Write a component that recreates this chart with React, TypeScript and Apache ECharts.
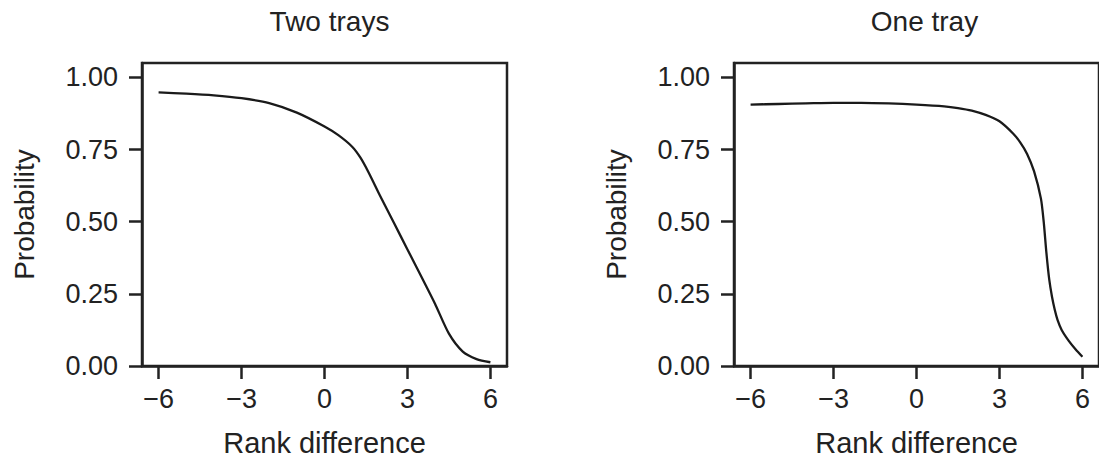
import React, { useEffect, useRef } from "react";
import * as echarts from "echarts";

const titles = ["Two trays", "One tray"];
const xTicks = [-6, -3, 0, 3, 6];
const yTicks = [0, 0.25, 0.5, 0.75, 1];

const twoTraysX = [-6, -5, -4, -3, -2, -1, 0, 0.5, 1, 1.3, 1.6, 2, 2.5, 3, 3.5, 4, 4.5, 5, 5.5, 6];
const twoTraysY = [0.948, 0.944, 0.938, 0.928, 0.911, 0.878, 0.83, 0.8, 0.76, 0.722, 0.67, 0.592, 0.498, 0.404, 0.31, 0.215, 0.112, 0.05, 0.024, 0.013];

const oneTrayX = [-6, -5, -4, -3, -2, -1, 0, 1, 1.5, 2, 2.5, 3, 3.5, 3.75, 4, 4.25, 4.5, 4.6, 4.7, 4.8, 4.9, 5, 5.1, 5.25, 5.5, 5.75, 6];
const oneTrayY = [0.906, 0.908, 0.91, 0.912, 0.912, 0.91, 0.906, 0.9, 0.894, 0.885, 0.87, 0.848, 0.805, 0.775, 0.735, 0.675, 0.58, 0.5, 0.39, 0.3, 0.24, 0.195, 0.16, 0.125, 0.088, 0.058, 0.032];

const FONT = "Liberation Sans, Arial, sans-serif";
const INK = "#222";

export default function App() {
  const ref = useRef<HTMLDivElement>(null);
  useEffect(() => {
    if (!ref.current) return;
    const chart = echarts.init(ref.current, null, { renderer: "svg" });
    const grids = [
      { left: 142, top: 63, width: 365, height: 303 },
      { left: 734, top: 63, width: 371, height: 303 },
    ];
    const mk = (xs: number[], ys: number[]) => xs.map((x, i) => [x, ys[i]]);
    const option: any = {
      animation: false,
      backgroundColor: "#fff",
      title: titles.map((t, i) => ({
        text: t,
        left: grids[i].left + grids[i].width / 2,
        top: 2,
        textAlign: "center",
        textStyle: { fontFamily: FONT, fontSize: 28, fontWeight: "normal", color: INK },
      })),
      grid: grids.map((g) => ({
        ...g,
        show: true,
        borderColor: INK,
        borderWidth: 2.5,
        backgroundColor: "transparent",
        containLabel: false,
      })),
      xAxis: grids.map((_, i) => ({
        type: "value",
        gridIndex: i,
        min: -6.6,
        max: 6.6,
        name: "Rank difference",
        nameLocation: "middle",
        nameGap: 62,
        nameTextStyle: { fontFamily: FONT, fontSize: 29, color: INK },
        axisLine: { show: true, onZero: false, lineStyle: { color: INK, width: 2.5 } },
        axisTick: { show: true, inside: false, length: 13, customValues: xTicks, lineStyle: { color: INK, width: 2.5 } },
        axisLabel: {
          customValues: xTicks,
          margin: 19,
          fontFamily: FONT,
          fontSize: 27,
          color: INK,
          formatter: (v: number) => String(v).replace("-", "\u2212"),
        },
        splitLine: { show: false },
      })),
      yAxis: grids.map((_, i) => ({
        type: "value",
        gridIndex: i,
        min: 0,
        max: 1.05,
        name: "Probability",
        nameLocation: "middle",
        nameGap: 104,
        nameTextStyle: { fontFamily: FONT, fontSize: 28, color: INK },
        axisLine: { show: true, onZero: false, lineStyle: { color: INK, width: 2.5 } },
        axisTick: { show: true, inside: false, length: 13, customValues: yTicks, lineStyle: { color: INK, width: 2.5 } },
        axisLabel: {
          customValues: yTicks,
          margin: 24,
          fontFamily: FONT,
          fontSize: 27,
          color: INK,
          formatter: (v: number) => v.toFixed(2),
        },
        splitLine: { show: false },
      })),
      series: [
        {
          type: "line",
          xAxisIndex: 0,
          yAxisIndex: 0,
          data: mk(twoTraysX, twoTraysY),
          smooth: 0.25,
          showSymbol: false,
          lineStyle: { color: "#1a1a1a", width: 2.3 },
        },
        {
          type: "line",
          xAxisIndex: 1,
          yAxisIndex: 1,
          data: mk(oneTrayX, oneTrayY),
          smooth: 0.25,
          showSymbol: false,
          lineStyle: { color: "#1a1a1a", width: 2.3 },
        },
      ],
    };
    chart.setOption(option);
    return () => chart.dispose();
  }, []);
  return (
    <div
      ref={ref}
      style={{ position: "fixed", left: 0, top: 0, width: 1099, height: 462, background: "#fff" }}
    />
  );
}
